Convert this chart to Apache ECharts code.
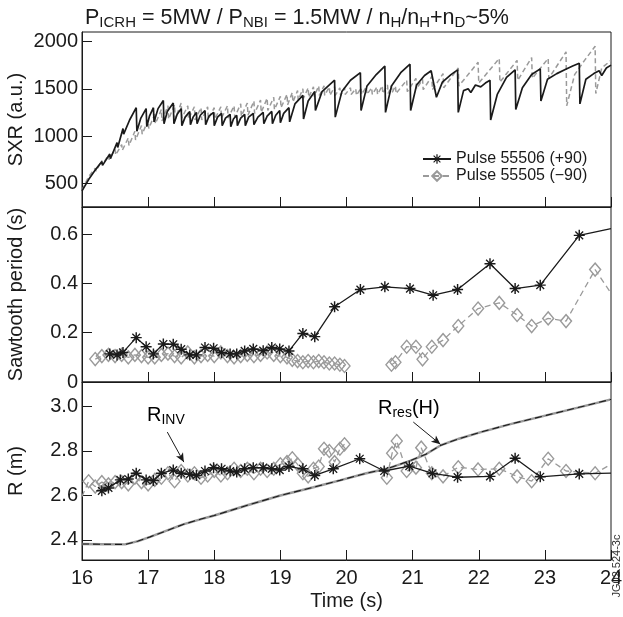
<!DOCTYPE html>
<html>
<head>
<meta charset="utf-8" />
<title>SXR / sawtooth period / R</title>
<style>
  html, body { margin: 0; padding: 0; background: #fff; }
  #main { width: 623px; height: 617px; }
</style>
</head>
<body>
<div id="main"></div>
<script src="https://cdn.jsdelivr.net/npm/echarts@6/dist/echarts.min.js"></script>
<script>
// tick values
var sxrTicks = [500, 1000, 1500, 2000];
var periodTicks = [0, 0.2, 0.4, 0.6];
var rTicks = [2.4, 2.6, 2.8, 3.0];

// SXR traces [time, a.u.]
var sxr55506 = [[16.00,420],[16.10,540],[16.20,640],[16.30,730],[16.31,690],[16.42,810],[16.43,760],[16.53,930],[16.54,880],[16.62,1080],[16.63,1020],[16.72,1170],[16.82,1300],[16.83,1050],[16.89,1190],[16.97,1290],[16.98,1100],[17.02,1210],[17.08,1300],[17.09,1150],[17.15,1290],[17.23,1375],[17.24,1130],[17.29,1260],[17.38,1350],[17.39,1130],[17.44,1230],[17.50,1290],[17.51,1110],[17.56,1200],[17.63,1260],[17.64,1120],[17.68,1200],[17.73,1250],[17.74,1130],[17.79,1220],[17.86,1270],[17.87,1120],[17.92,1210],[17.99,1250],[18.00,1110],[18.05,1200],[18.11,1240],[18.12,1110],[18.17,1190],[18.24,1230],[18.25,1100],[18.29,1180],[18.34,1220],[18.35,1110],[18.40,1190],[18.46,1230],[18.47,1110],[18.52,1200],[18.59,1240],[18.60,1120],[18.66,1200],[18.74,1250],[18.75,1130],[18.80,1210],[18.87,1260],[18.88,1130],[18.93,1220],[18.99,1270],[19.00,1140],[19.05,1240],[19.13,1300],[19.14,1150],[19.22,1340],[19.34,1430],[19.35,1180],[19.42,1370],[19.52,1470],[19.53,1270],[19.63,1470],[19.82,1590],[19.83,1200],[19.93,1470],[20.06,1590],[20.21,1670],[20.22,1270],[20.31,1530],[20.45,1650],[20.58,1740],[20.59,1250],[20.68,1530],[20.82,1670],[20.96,1760],[20.97,1270],[21.06,1540],[21.18,1640],[21.28,1690],[21.36,1410],[21.45,1570],[21.58,1650],[21.68,1700],[21.69,1250],[21.77,1480],[21.84,1500],[21.88,1460],[21.95,1540],[22.03,1520],[22.10,1560],[22.17,1590],[22.18,1170],[22.28,1440],[22.42,1620],[22.55,1700],[22.56,1280],[22.66,1510],[22.80,1650],[22.93,1710],[22.94,1370],[23.04,1600],[23.18,1660],[23.30,1700],[23.42,1740],[23.52,1770],[23.53,1340],[23.62,1600],[23.74,1660],[23.82,1690],[23.86,1640],[23.93,1720],[24.00,1750]];
var sxr55505 = [[16.00,430],[16.10,570],[16.20,660],[16.21,630],[16.30,740],[16.31,700],[16.40,800],[16.41,750],[16.50,860],[16.51,800],[16.60,910],[16.61,850],[16.70,980],[16.71,900],[16.80,1050],[16.81,960],[16.90,1110],[16.91,1020],[17.00,1170],[17.01,1080],[17.10,1230],[17.11,1130],[17.20,1280],[17.21,1160],[17.30,1320],[17.31,1180],[17.40,1330],[17.41,1180],[17.50,1350],[17.51,1190],[17.60,1320],[17.61,1180],[17.70,1310],[17.71,1170],[17.80,1300],[17.81,1170],[17.90,1310],[17.91,1180],[18.00,1300],[18.01,1180],[18.10,1310],[18.11,1190],[18.20,1320],[18.21,1190],[18.30,1320],[18.31,1200],[18.40,1340],[18.41,1210],[18.50,1350],[18.51,1220],[18.60,1370],[18.61,1240],[18.70,1380],[18.71,1250],[18.80,1400],[18.81,1270],[18.90,1410],[18.91,1280],[19.00,1420],[19.01,1300],[19.10,1440],[19.11,1330],[19.18,1460],[19.19,1360],[19.26,1480],[19.27,1380],[19.34,1500],[19.35,1400],[19.42,1510],[19.43,1410],[19.50,1520],[19.51,1420],[19.58,1530],[19.59,1430],[19.66,1530],[19.67,1430],[19.74,1520],[19.75,1430],[19.82,1520],[19.83,1430],[19.90,1510],[19.91,1430],[19.97,1510],[19.98,1440],[20.06,1510],[20.07,1440],[20.14,1500],[20.15,1430],[20.22,1510],[20.23,1440],[20.30,1520],[20.31,1440],[20.38,1510],[20.39,1440],[20.46,1520],[20.47,1440],[20.54,1530],[20.55,1450],[20.62,1540],[20.63,1450],[20.68,1530],[20.69,1460],[20.74,1530],[20.75,1450],[20.91,1590],[20.92,1470],[21.05,1610],[21.06,1500],[21.15,1600],[21.16,1490],[21.29,1630],[21.30,1490],[21.46,1660],[21.47,1510],[21.69,1720],[21.70,1530],[21.99,1780],[22.00,1560],[22.31,1820],[22.32,1570],[22.58,1800],[22.59,1590],[22.80,1830],[22.81,1610],[23.05,1820],[23.06,1610],[23.32,1890],[23.33,1320],[23.45,1650],[23.60,1800],[23.76,1950],[23.77,1450],[23.86,1720],[24.00,1800]];

// sawtooth period (s)
var period55506 = [[16.42,0.114],[16.53,0.11],[16.62,0.12],[16.82,0.18],[16.97,0.143],[17.08,0.114],[17.23,0.154],[17.38,0.153],[17.50,0.133],[17.63,0.11],[17.73,0.11],[17.86,0.14],[17.99,0.137],[18.11,0.12],[18.24,0.114],[18.34,0.114],[18.46,0.126],[18.59,0.134],[18.74,0.127],[18.87,0.14],[18.99,0.134],[19.13,0.126],[19.34,0.197],[19.52,0.184],[19.82,0.305],[20.21,0.375],[20.58,0.386],[20.96,0.379],[21.31,0.352],[21.68,0.375],[22.17,0.48],[22.55,0.379],[22.93,0.393],[23.52,0.595],[24.00,0.622]];
var period55505a = [[16.20,0.093],[16.30,0.105],[16.40,0.11],[16.50,0.105],[16.60,0.11],[16.70,0.10],[16.80,0.11],[16.90,0.105],[17.00,0.10],[17.10,0.10],[17.20,0.11],[17.30,0.115],[17.40,0.105],[17.50,0.10],[17.60,0.12],[17.70,0.10],[17.80,0.105],[17.90,0.11],[18.00,0.105],[18.10,0.12],[18.20,0.105],[18.30,0.10],[18.40,0.105],[18.50,0.11],[18.60,0.105],[18.70,0.11],[18.80,0.12],[18.90,0.11],[19.00,0.105],[19.10,0.10],[19.18,0.09],[19.26,0.085],[19.34,0.08],[19.42,0.085],[19.50,0.08],[19.58,0.085],[19.66,0.08],[19.74,0.075],[19.82,0.075],[19.90,0.07],[19.97,0.065]];
var period55505b = [[20.68,0.07],[20.74,0.08],[20.91,0.143],[21.05,0.143],[21.15,0.092],[21.29,0.143],[21.46,0.17],[21.69,0.227],[21.99,0.298],[22.31,0.321],[22.58,0.272],[22.80,0.227],[23.05,0.258],[23.32,0.247],[23.76,0.456],[24.00,0.36]];

// inversion radius and resonance (m)
var rInv55506 = [[16.30,2.621],[16.40,2.634],[16.58,2.67],[16.70,2.674],[16.82,2.70],[16.97,2.67],[17.08,2.667],[17.20,2.70],[17.38,2.714],[17.50,2.70],[17.63,2.695],[17.73,2.69],[17.86,2.71],[17.99,2.725],[18.11,2.72],[18.24,2.71],[18.34,2.705],[18.46,2.72],[18.59,2.725],[18.74,2.725],[18.87,2.72],[18.99,2.714],[19.13,2.73],[19.34,2.72],[19.52,2.69],[19.80,2.72],[20.20,2.765],[20.57,2.71],[20.95,2.732],[21.30,2.699],[21.68,2.682],[22.17,2.686],[22.55,2.767],[22.93,2.684],[23.52,2.697],[24.00,2.70]];
var rInv55505a = [[16.00,2.595],[16.10,2.664],[16.20,2.64],[16.30,2.66],[16.40,2.65],[16.50,2.66],[16.60,2.66],[16.70,2.65],[16.80,2.68],[16.90,2.66],[17.00,2.65],[17.10,2.67],[17.20,2.68],[17.30,2.70],[17.40,2.664],[17.50,2.71],[17.60,2.69],[17.70,2.70],[17.80,2.68],[17.90,2.69],[18.00,2.71],[18.10,2.69],[18.20,2.70],[18.30,2.72],[18.40,2.71],[18.50,2.72],[18.60,2.70],[18.70,2.72],[18.80,2.71],[18.90,2.72],[19.00,2.74],[19.10,2.75],[19.18,2.767],[19.26,2.74],[19.34,2.70],[19.42,2.686],[19.50,2.72],[19.58,2.73],[19.66,2.81],[19.74,2.80],[19.82,2.75],[19.90,2.81],[19.97,2.83]];
var rInv55505b = [[20.61,2.68],[20.69,2.79],[20.76,2.845],[20.91,2.71],[21.05,2.725],[21.13,2.815],[21.29,2.70],[21.46,2.686],[21.69,2.727],[21.99,2.717],[22.31,2.72],[22.58,2.686],[22.80,2.664],[23.05,2.765],[23.32,2.71],[23.76,2.70],[24.00,2.74]];
var rRes = [[16.00,2.382],[16.30,2.381],[16.65,2.38],[16.85,2.395],[17.03,2.414],[17.30,2.444],[17.53,2.47],[17.80,2.494],[18.00,2.51],[18.50,2.556],[19.00,2.60],[19.50,2.637],[19.90,2.668],[20.30,2.70],[20.61,2.72],[20.96,2.756],[21.20,2.785],[21.42,2.825],[21.70,2.855],[22.02,2.884],[22.48,2.921],[23.02,2.96],[23.50,2.995],[24.00,3.032]];

// annotation arrows (data coords)
var arrowInv = [[17.29, 2.885], [17.54, 2.75]];
var arrowRes = [[21.01, 2.93], [21.42, 2.83]];

var FONT = '"Liberation Sans", Arial, Helvetica, sans-serif';
var INK = '#1a1a1a';
var GREY = '#9a9a9a';
var NAME_A = 'Pulse 55506 (+90)';
var NAME_B = 'Pulse 55505 (\u221290)';
var STAR = 'path://M-1.3,-10L1.3,-10L1.3,10L-1.3,10Z M-10,-1.3L10,-1.3L10,1.3L-10,1.3Z M-6.22,-7.92L7.92,6.22L6.22,7.92L-7.92,-6.22Z M6.22,-7.92L7.92,-6.22L-6.22,7.92L-7.92,6.22Z';

var subRich = {
  m: { fontSize: 20, fontWeight: 'normal', fontFamily: FONT, color: INK, lineHeight: 22, verticalAlign: 'top' },
  s: { fontSize: 14, fontWeight: 'normal', fontFamily: FONT, color: INK, lineHeight: 14, verticalAlign: 'bottom', padding: [11, 0, 0, 0] }
};
var titleRich = {
  m: { fontSize: 21.5, fontWeight: 'normal', fontFamily: FONT, color: INK, lineHeight: 23, verticalAlign: 'top' },
  s: { fontSize: 15, fontWeight: 'normal', fontFamily: FONT, color: INK, lineHeight: 15, verticalAlign: 'bottom', padding: [11, 0, 0, 0] }
};

var chart = echarts.init(document.getElementById('main'), null, { renderer: 'canvas' });

function xAxisFor(i) {
  return {
    type: 'value', gridIndex: i, min: 16, max: 24, interval: 1,
    axisLine: { lineStyle: { color: INK, width: 1 } },
    axisTick: { inside: true, length: 10, lineStyle: { color: INK } },
    axisLabel: { show: i === 2, fontSize: 20, margin: 8, color: INK, fontFamily: FONT },
    splitLine: { show: false },
    name: i === 2 ? 'Time (s)' : '',
    nameLocation: 'middle', nameGap: 31, nameMoveOverlap: false,
    nameTextStyle: { fontSize: 20, color: INK, fontFamily: FONT }
  };
}
function yAxisFor(i, min, max, ticks, name, fmt) {
  return {
    type: 'value', gridIndex: i, min: min, max: max,
    axisLine: { show: true, lineStyle: { color: INK, width: 1 } },
    axisTick: { show: true, inside: true, length: 10, customValues: ticks, lineStyle: { color: INK } },
    axisLabel: { customValues: ticks, fontSize: 20, margin: 4, color: INK, fontFamily: FONT, formatter: fmt },
    splitLine: { show: false },
    name: name, nameLocation: 'middle', nameGap: 56, nameMoveOverlap: false,
    nameTextStyle: { fontSize: 20, color: INK, fontFamily: FONT }
  };
}
var diamondStyle = { color: 'rgba(255,255,255,0)', borderColor: GREY, borderWidth: 1.4 };

var option = {
  animation: false,
  backgroundColor: '#fff',
  title: {
    left: 80, top: 2,
    text: '{m|P}{s|ICRH}{m| = 5MW / P}{s|NBI}{m| = 1.5MW / n}{s|H}{m|/n}{s|H}{m|+n}{s|D}{m|~5%}',
    textStyle: { fontWeight: 'normal', rich: titleRich }
  },
  legend: {
    data: [NAME_A, NAME_B],
    orient: 'vertical', left: 422, top: 151, padding: 0,
    itemWidth: 28, itemHeight: 12, itemGap: 1,
    selectedMode: false,
    textStyle: { fontSize: 16, color: INK, fontFamily: FONT, lineHeight: 15 }
  },
  grid: [
    { left: 82, right: 12, top: 32, height: 175, show: true, borderColor: INK, borderWidth: 1, outerBoundsMode: 'none' },
    { left: 82, right: 12, top: 207, height: 175, show: true, borderColor: INK, borderWidth: 1, outerBoundsMode: 'none' },
    { left: 82, right: 12, top: 382, height: 178, show: true, borderColor: INK, borderWidth: 1, outerBoundsMode: 'none' }
  ],
  xAxis: [xAxisFor(0), xAxisFor(1), xAxisFor(2)],
  yAxis: [
    yAxisFor(0, 250, 2100, sxrTicks, 'SXR (a.u.)', function (v) { return String(v); }),
    yAxisFor(1, 0, 0.71, periodTicks, 'Sawtooth period (s)', function (v) { return v === 0 ? '0' : v.toFixed(1); }),
    yAxisFor(2, 2.31, 3.11, rTicks, 'R (m)', function (v) { return v.toFixed(1); })
  ],
  series: [
    {
      name: NAME_A, type: 'line', xAxisIndex: 1, yAxisIndex: 1,
      data: period55506.map(function (p, i) { return i === period55506.length - 1 ? { value: p, symbol: 'none' } : p; }),
      symbol: STAR, symbolSize: 11, itemStyle: { color: INK },
      lineStyle: { color: INK, width: 1.3 }, z: 4
    },
    {
      name: NAME_B, type: 'line', xAxisIndex: 1, yAxisIndex: 1,
      data: period55505a, symbol: 'diamond', symbolSize: [11, 13], itemStyle: diamondStyle,
      lineStyle: { color: GREY, width: 1.3, type: [6, 4] }, z: 3
    },
    {
      name: NAME_B, type: 'line', xAxisIndex: 1, yAxisIndex: 1,
      data: period55505b.map(function (p, i) { return i === period55505b.length - 1 ? { value: p, symbol: 'none' } : p; }),
      symbol: 'diamond', symbolSize: [11, 13], itemStyle: diamondStyle,
      lineStyle: { color: GREY, width: 1.3, type: [6, 4] }, z: 3
    },
    {
      name: NAME_B, type: 'line', xAxisIndex: 0, yAxisIndex: 0,
      data: sxr55505, showSymbol: false,
      lineStyle: { color: GREY, width: 1.5, type: [5, 3] }
    },
    {
      name: NAME_A, type: 'line', xAxisIndex: 0, yAxisIndex: 0,
      data: sxr55506, showSymbol: false,
      lineStyle: { color: INK, width: 1.7 }
    },
    {
      name: NAME_B, type: 'line', xAxisIndex: 2, yAxisIndex: 2,
      data: rInv55505a.map(function (p, i) { return i === 0 ? { value: p, symbol: 'none' } : p; }),
      symbol: 'diamond', symbolSize: [11, 13], itemStyle: diamondStyle,
      lineStyle: { color: GREY, width: 1.3, type: [6, 4] }, z: 3
    },
    {
      name: NAME_B, type: 'line', xAxisIndex: 2, yAxisIndex: 2,
      data: rInv55505b.map(function (p, i) { return i === rInv55505b.length - 1 ? { value: p, symbol: 'none' } : p; }),
      symbol: 'diamond', symbolSize: [11, 13], itemStyle: diamondStyle,
      lineStyle: { color: GREY, width: 1.3, type: [6, 4] }, z: 3
    },
    {
      name: NAME_A, type: 'line', xAxisIndex: 2, yAxisIndex: 2,
      data: rInv55506.map(function (p, i) { return i === rInv55506.length - 1 ? { value: p, symbol: 'none' } : p; }),
      symbol: STAR, symbolSize: 11, itemStyle: { color: INK },
      lineStyle: { color: INK, width: 1.3 }, z: 4
    },
    {
      type: 'line', xAxisIndex: 2, yAxisIndex: 2,
      data: rRes, showSymbol: false,
      lineStyle: { color: GREY, width: 2.4 }
    },
    {
      type: 'line', xAxisIndex: 2, yAxisIndex: 2,
      data: rRes, showSymbol: false,
      lineStyle: { color: INK, width: 1.1, type: [7, 4] },
      markLine: {
        silent: true, animation: false,
        symbol: ['none', 'arrow'], symbolSize: [6, 9],
        label: { show: false },
        lineStyle: { color: INK, width: 1, type: 'solid' },
        data: [
          [{ coord: arrowInv[0] }, { coord: arrowInv[1] }],
          [{ coord: arrowRes[0] }, { coord: arrowRes[1] }]
        ]
      }
    }
  ],
  graphic: [
    {
      type: 'text', left: 147, top: 402, silent: true,
      style: { text: '{m|R}{s|INV}', rich: subRich }
    },
    {
      type: 'text', left: 378, top: 395, silent: true,
      style: { text: '{m|R}{s|res}{m|(H)}', rich: subRich }
    },
    {
      type: 'text', x: 617, y: 566, rotation: Math.PI / 2, silent: true,
      style: { text: 'JG02.524-3c', fontSize: 11, fontFamily: FONT, fill: '#333', align: 'center', verticalAlign: 'middle' }
    }
  ]
};

chart.setOption(option);
</script>
</body>
</html>
